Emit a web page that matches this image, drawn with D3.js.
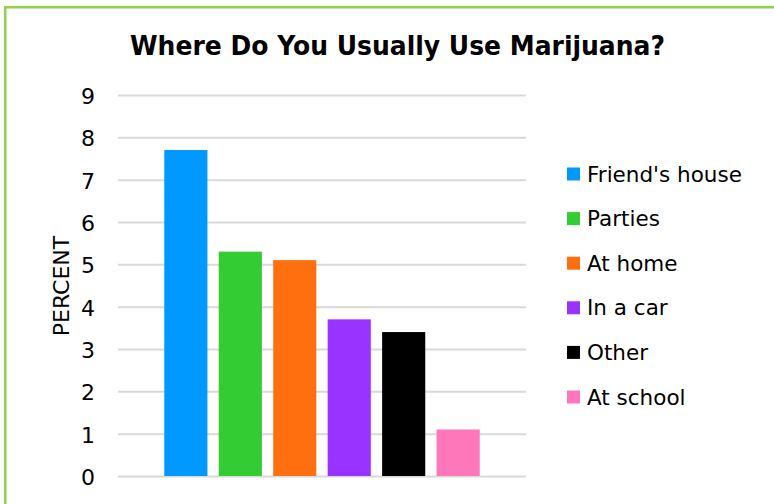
<!DOCTYPE html>
<html><head><meta charset="utf-8">
<script src="https://cdn.jsdelivr.net/npm/d3@7"></script>
<style>body{margin:0;background:#fff}svg{display:block}</style>
</head><body>
<svg id="c" width="774" height="504"></svg>
<script>
const categories = ["Friend's house","Parties","At home","In a car","Other","At school"];
const values = [7.7, 5.3, 5.1, 3.7, 3.4, 1.1];
const colors = ["#0099FF","#33CC33","#FF6F0F","#9933FF","#000000","#FF77BB"];
const yTicks = [0,1,2,3,4,5,6,7,8,9];
const title = "Where Do You Usually Use Marijuana?";
const yLabel = "PERCENT";

(function(){
const font = "'DejaVu Sans', sans-serif";
const svg = d3.select("#c");
svg.append("rect").attr("x",5.2).attr("y",7.2).attr("width",800).attr("height",600)
  .attr("fill","none").attr("stroke","#92D050").attr("stroke-width",2.6);

const pL=118, pR=526, pT=95, pB=476;
const y = d3.scaleLinear().domain([0,9]).range([pB,pT]);
const x = d3.scaleBand().domain(categories).range([pL,pR]).paddingInner(0.208).paddingOuter(0.85);

const grid = svg.append("g").attr("transform",`translate(${pL},0)`)
  .call(d3.axisLeft(y).tickValues(yTicks).tickSize(-(pR-pL)).tickPadding(23).tickFormat(d3.format("d")));
grid.select(".domain").remove();
grid.selectAll(".tick line").attr("stroke","#D9D9D9").attr("stroke-width",2);
grid.selectAll(".tick text").attr("font-family",font).attr("font-size",22).attr("fill","#000")
  .attr("x",-23).attr("dy","0.38em");

svg.append("g").selectAll("rect").data(values).join("rect")
  .attr("x",(d,i)=>x(categories[i])).attr("width",x.bandwidth())
  .attr("y",d=>y(d)).attr("height",d=>pB-y(d)).attr("fill",(d,i)=>colors[i]);

svg.append("text").attr("x",130).attr("y",55)
  .attr("textLength",535).attr("lengthAdjust","spacingAndGlyphs")
  .attr("font-family",font).attr("font-weight","bold").attr("font-size",26).text(title);

svg.append("text").attr("transform","translate(69,286) rotate(-90)").attr("text-anchor","middle")
  .attr("font-family",font).attr("font-size",22).text(yLabel);

const lg = svg.append("g").selectAll("g").data(categories).join("g")
  .attr("transform",(d,i)=>`translate(567,${174+i*44.6})`);
lg.append("rect").attr("x",0).attr("y",-6.5).attr("width",13).attr("height",13).attr("fill",(d,i)=>colors[i]);
lg.append("text").attr("x",20).attr("y",0).attr("dy","0.35em").attr("font-family",font).attr("font-size",21.5).text(d=>d);
})();
</script>
</body></html>
